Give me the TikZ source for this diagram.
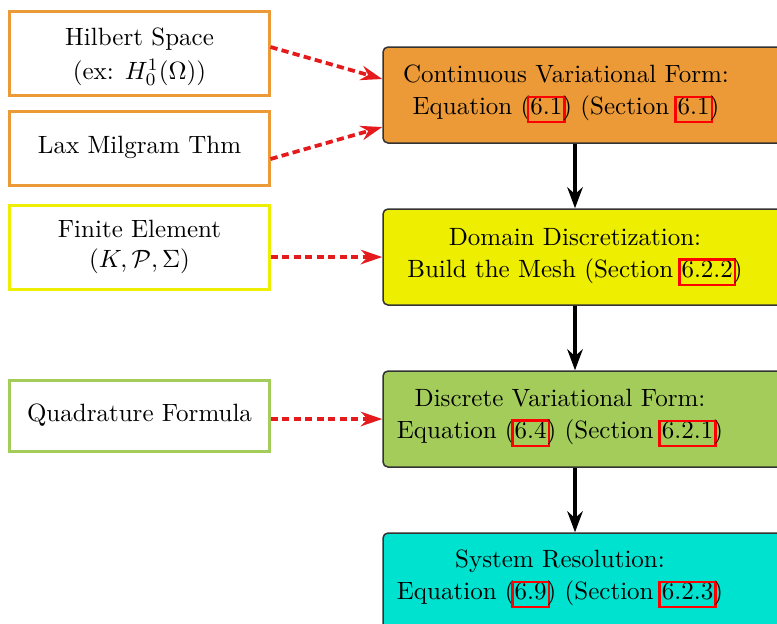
\documentclass[tikz,border=0pt]{standalone}
\usetikzlibrary{arrows.meta,calc}
\definecolor{corange}{HTML}{EC9A37}
\definecolor{cyellow}{HTML}{EEEE00}
\definecolor{cgreen}{HTML}{A3CC5A}
\definecolor{ccyan}{HTML}{00E2D0}
\definecolor{cred}{HTML}{E41A1C}
\newcommand\refbox[1]{{\setbox0\hbox{#1}\makebox[\wd0]{\color{red}\setlength\fboxrule{1pt}\setlength\fboxsep{0pt}\fbox{\color{black}\rule[-2.4pt]{0pt}{9pt}\hspace{0.4pt}#1\hspace{0.4pt}}}}}
\begin{document}
\begin{tikzpicture}[x=0.40pt,y=-0.40pt,
  leftbox/.style={draw, line width=1.2pt, minimum width=103.6pt, inner sep=0pt, align=center, fill=white},
  rightbox/.style={draw=black!80, line width=0.6pt, rounded corners=2pt, minimum width=166.8pt, minimum height=38.4pt, inner sep=0pt},
  txt/.style={align=center, inner sep=0pt},
  redarrow/.style={draw=cred, line width=1.5pt, dash pattern=on 2.9pt off 1.7pt, -{Stealth[length=8.6pt,width=5.8pt]}},
  flowarrow/.style={line width=1.3pt, -{Stealth[length=8.4pt,width=6.2pt]}}]
\useasboundingbox (0,0) rectangle (777,623);
\clip (0,0) rectangle (777,623);
% left boxes
\node[leftbox, draw=corange, minimum height=33.6pt] (hil) at (139.5,53) {};
\node[txt] (hilT) at (139.5,57) {Hilbert Space\\[1.5pt](ex: $H_0^1(\Omega)$)};
\node[leftbox, draw=corange, minimum height=29.6pt] (lax) at (139.5,148) {\raisebox{2.8pt}{Lax Milgram Thm}};
\node[leftbox, draw=cyellow, minimum height=33.6pt] (fe) at (139.5,247) {Finite Element\\$(K,\mathcal{P},\Sigma)$};
\node[leftbox, draw=cgreen, minimum height=28.4pt] (quad) at (139.5,415.5) {Quadrature Formula};
% right boxes
\node[rightbox, fill=corange] (cont) at (591.5,95) {};
\node[rightbox, fill=cyellow] (dom) at (591.5,257) {};
\node[rightbox, fill=cgreen] (disc) at (591.5,419) {};
\node[rightbox, fill=ccyan] (sys) at (591.5,581) {};
\node[txt] (contT) at (566,94) {Continuous Variational Form:\\[1pt] Equation (\refbox{6.1}) (Section \refbox{6.1})};
\node[txt] (domT) at (575,257) {Domain Discretization:\\[1pt]Build the Mesh (Section \refbox{6.2.2})};
\node[txt] (discT) at (560,418) {Discrete Variational Form:\\[1pt]Equation (\refbox{6.4}) (Section \refbox{6.2.1})};
\node[txt] (sysT) at (560,579) {System Resolution:\\[1pt]Equation (\refbox{6.9}) (Section \refbox{6.2.3})};
% flow arrows
\draw[flowarrow] ($(cont.south)+(-16.5,0)$) -- ($(dom.north)+(-16.5,0)$);
\draw[flowarrow] ($(dom.south)+(-16.5,0)$) -- ($(disc.north)+(-16.5,0)$);
\draw[flowarrow] ($(disc.south)+(-16.5,0)$) -- ($(sys.north)+(-16.5,0)$);
% red dashed arrows
\draw[redarrow] ($(hil.east)+(0,-6)$) -- ($(cont.west)+(0,-16)$);
\draw[redarrow] ($(lax.east)+(0,11)$) -- ($(cont.west)+(0,32)$);
\draw[redarrow] (fe.east |- dom.west) -- (dom.west);
\draw[redarrow] (quad.east |- disc.west) -- (disc.west);
\end{tikzpicture}
\end{document}
